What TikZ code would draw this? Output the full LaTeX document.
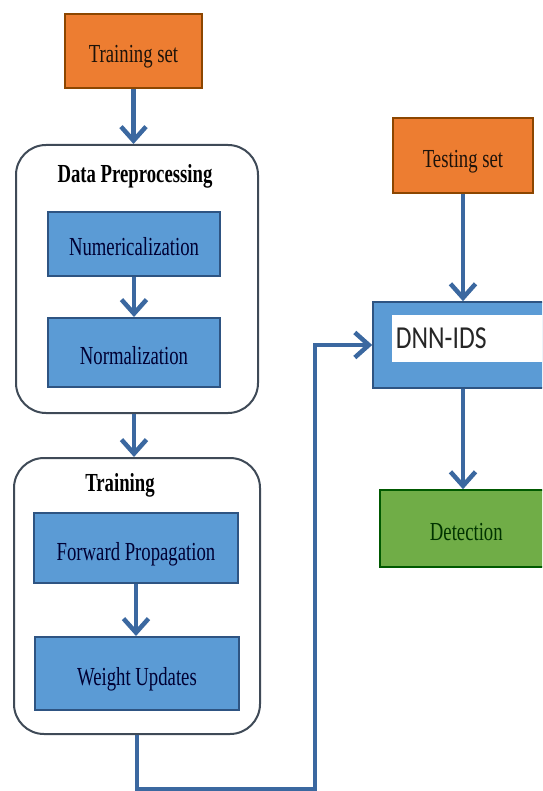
\documentclass[tikz,border=0pt]{standalone}
\usepackage{fontspec}
\setmainfont[FakeStretch=0.72]{Liberation Serif}
\newfontfamily\calibrifont[FakeStretch=0.8]{Carlito}
\usetikzlibrary{arrows.meta}

\definecolor{boxorange}{RGB}{237,125,49}
\definecolor{boxblue}{RGB}{91,155,213}
\definecolor{boxgreen}{RGB}{112,173,71}
\definecolor{edgeblue}{RGB}{46,84,130}
\definecolor{flowblue}{RGB}{59,104,160}
\definecolor{framegray}{RGB}{63,74,87}

\begin{document}
\begin{tikzpicture}[x=1pt, y=-1pt,
		stage/.style={draw=framegray, line width=2pt, rounded corners=30pt, fill=white},
		lowtext/.style={text height=24pt, text depth=0pt},
		setbox/.style={lowtext, draw=orange!55!black, line width=1.6pt, fill=boxorange, text=black!85!brown},
		stepbox/.style={lowtext, draw=edgeblue, line width=2pt, fill=boxblue, text=blue!20!black},
		outbox/.style={lowtext, draw=green!35!black, line width=1.6pt, fill=boxgreen, text=black!80!green},
		flow/.style={-{Straight Barb[length=14pt, width=25pt]}, flowblue, line width=4.5pt},
		every node/.style={font=\fontsize{26}{28}\selectfont}]

		\useasboundingbox (0, 0) rectangle (542, 791);
		\clip (0, 0) rectangle (542, 791);

		% left column
		\node [setbox, minimum width=137pt, minimum height=74pt]	(trainset) at (133.5, 51) {Training set};

		\node [stage, minimum width=242pt, minimum height=268pt]	(prep) at (137, 279) {};
		\node [font=\fontsize{26}{28}\selectfont\bfseries]	(preptitle) at (135, 176) {Data Preprocessing};
		\node [stepbox, minimum width=172pt, minimum height=64pt]	(numer) at (134, 244) {Numericalization};
		\node [stepbox, minimum width=172pt, minimum height=69pt]	(norm) at (134, 352.5) {Normalization};

		\node [stage, minimum width=246pt, minimum height=276pt]	(training) at (137, 596) {};
		\node [font=\fontsize{26}{28}\selectfont\bfseries]	(traintitle) at (120, 485) {Training};
		\node [stepbox, minimum width=204pt, minimum height=70pt]	(forward) at (136, 548) {Forward Propagation};
		\node [stepbox, minimum width=204pt, minimum height=73pt]	(weights) at (137, 673.5) {Weight Updates};

		% right column
		\node [setbox, minimum width=140pt, minimum height=75pt]	(testset) at (463, 155.5) {Testing set};

		\node [draw=edgeblue, line width=1.6pt, fill=boxblue, minimum width=227pt, minimum height=86pt]	(dnn) at (486.5, 345) {};
		\node [fill=white, minimum width=220pt, minimum height=47pt, inner sep=1pt, anchor=west,
				font=\fontsize{32}{34}\calibrifont, text=black!85]	(dnnlabel) at (392, 338.5) {DNN-IDS\hspace*{122pt}};

		\node [outbox, minimum width=221pt, minimum height=77pt, text width=170pt, align=center, anchor=west]	(detect) at (379, 528.5) {Detection\hspace*{48pt}};

		% connectors
		\draw [flow]	(trainset.south) to (trainset.south |- prep.north);
		\draw [flow]	(numer.south) to (numer.south |- norm.north);
		\draw [flow]	(norm.south |- prep.south) to (norm.south |- training.north);
		\draw [flow]	(forward.south) to (forward.south |- weights.north);

		\draw [flow]	(testset.south) to (testset.south |- dnn.north);
		\draw [flow]	(testset.south |- dnn.south) to (testset.south |- detect.north);

		\coordinate (bend) at (315, 789);
		\draw [flow]	(training.south) |- (bend) |- (dnn.west);
\end{tikzpicture}
\end{document}
